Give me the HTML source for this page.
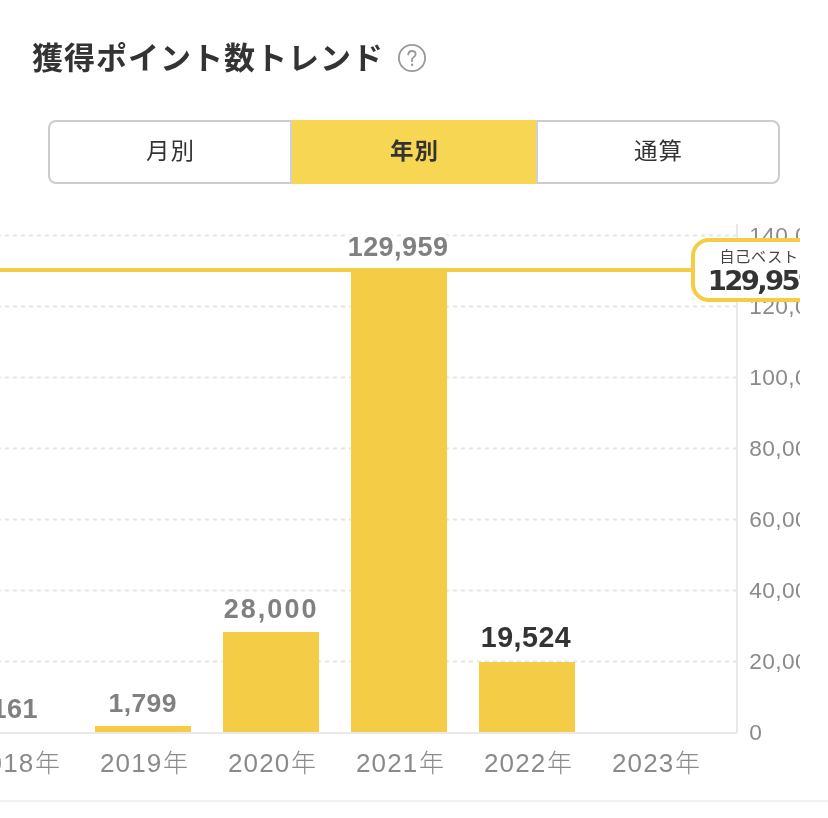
<!DOCTYPE html>
<html lang="ja">
<head>
<meta charset="utf-8">
<title>獲得ポイント数トレンド</title>
<style>
html,body{margin:0;padding:0;background:#fff;}
body{width:828px;height:818px;position:relative;overflow:hidden;font-family:"Liberation Sans","Noto Sans CJK JP",sans-serif;color:#333;}
.title{position:absolute;left:32px;top:35px;font-size:31px;line-height:48px;font-weight:bold;color:#333;white-space:nowrap;letter-spacing:1px;}
.help{position:absolute;left:396px;top:42px;width:32px;height:32px;}
.seg{position:absolute;left:48px;top:120px;width:728px;height:60px;border:2px solid #ccc;border-radius:8px;background:#fff;}
.seg div{position:absolute;top:-2px;height:64px;line-height:64px;text-align:center;font-size:22.500px;color:#333;}
.seg span{display:inline-block;letter-spacing:1px;margin-right:-1px;transform:scale(1.045,1.010);}
.seg .a{left:0;width:240px;}
.seg .d1{left:240px;width:2px;background:#cfcfd4;}
.seg .b{left:242px;width:244px;background:#f7d654;font-weight:bold;}
.seg .d2{left:486px;width:2px;background:#cfcfd4;}
.seg .c{left:488px;width:240px;}
.chart{position:absolute;left:0;top:200px;width:800px;height:600px;overflow:hidden;}
.sep{position:absolute;left:0;top:800px;width:828px;height:2px;background:#f1f1f1;}
svg text{font-family:"Liberation Sans","Noto Sans CJK JP",sans-serif;}
</style>
</head>
<body>
<div class="title">獲得ポイント数トレンド</div>
<svg class="help" viewBox="0 0 32 32" fill="none" stroke="#999" stroke-width="1.8" stroke-linecap="round" stroke-linejoin="round">
<circle cx="16" cy="16" r="13.1"/>
<path d="M12.300 12.500C12.500 10.300 14 9 16 9C18.100 9 19.600 10.300 19.600 12.200C19.600 13.800 18.700 14.600 17.600 15.300C16.500 16 16 16.600 16 17.700L16 19.200"/>
<circle cx="16.1" cy="22.800" r="1.2" fill="#999" stroke="none"/>
</svg>
<div class="seg">
<div class="a"><span>月別</span></div><div class="d1"></div><div class="b"><span>年別</span></div><div class="d2"></div><div class="c"><span>通算</span></div>
</div>
<div class="chart">
<svg width="828" height="600" viewBox="0 200 828 600">
<g stroke="#e6e6e6" stroke-width="2" stroke-dasharray="4 4" stroke-dashoffset="3">
<line x1="0" x2="737" y1="235.500" y2="235.500"/>
<line x1="0" x2="737" y1="306.500" y2="306.500"/>
<line x1="0" x2="737" y1="377.500" y2="377.500"/>
<line x1="0" x2="737" y1="448.500" y2="448.500"/>
<line x1="0" x2="737" y1="519.500" y2="519.500"/>
<line x1="0" x2="737" y1="590.500" y2="590.500"/>
<line x1="0" x2="737" y1="661.500" y2="661.500"/>
</g>
<g fill="#f5cc45">
<rect x="95" y="726" width="96" height="6"/>
<rect x="223" y="632" width="96" height="100"/>
<rect x="351" y="271" width="96" height="461"/>
<rect x="479" y="662" width="96" height="70"/>
</g>
<rect x="0" y="732" width="737" height="1.850" fill="#e8e8e8"/>
<rect x="736" y="224" width="2" height="508.500" fill="#e8e8e8"/>
<g font-size="22.700" fill="#8a8a8a" letter-spacing="0.400">
<text x="749.300" y="242.6">140,000</text>
<text x="749.300" y="313.6">120,000</text>
<text x="749.300" y="384.6">100,000</text>
<text x="749.300" y="455.6">80,000</text>
<text x="749.300" y="526.6">60,000</text>
<text x="749.300" y="597.6">40,000</text>
<text x="749.300" y="668.6">20,000</text>
<text x="749.300" y="739.6">0</text>
</g>
<g font-size="26" fill="#8a8a8a" text-anchor="middle" letter-spacing="1.150">
<text x="16.5" y="772">2018<tspan font-size="25" dx="0.500" font-weight="300">年</tspan></text>
<text x="144.5" y="772">2019<tspan font-size="25" dx="0.500" font-weight="300">年</tspan></text>
<text x="272.5" y="772">2020<tspan font-size="25" dx="0.500" font-weight="300">年</tspan></text>
<text x="400.5" y="772">2021<tspan font-size="25" dx="0.500" font-weight="300">年</tspan></text>
<text x="528.5" y="772">2022<tspan font-size="25" dx="0.500" font-weight="300">年</tspan></text>
<text x="656.5" y="772">2023<tspan font-size="25" dx="0.500" font-weight="300">年</tspan></text>
</g>
<g font-size="27" font-weight="bold" fill="#808080" stroke="#fff" stroke-width="7" stroke-linejoin="round" paint-order="stroke fill">
<text x="-8.500" y="717.700" letter-spacing="0.500">161</text>
<text x="108.500" y="711.700" letter-spacing="0.400" font-size="26.500">1,799</text>
<text x="223.700" y="617.600" letter-spacing="2.050">28,000</text>
<text x="347.700" y="255.600" letter-spacing="0.450">129,959</text>
<text x="480.800" y="647.200" fill="#333" font-size="28.600" letter-spacing="0.500">19,524</text>
</g>
<rect x="0" y="268" width="700" height="4" fill="#f5cc45"/>
<rect x="693" y="240" width="160" height="60" rx="16" ry="16" fill="#fff" stroke="#f5cc45" stroke-width="4"/>
<text x="719.500" y="261.600" font-size="15" fill="#444" letter-spacing="0.800">自己ベスト</text>
<text transform="translate(707.800,289.700) scale(1.050,1)" font-size="26.200" letter-spacing="-2.520" font-weight="bold" fill="#333" style="font-family:'DejaVu Sans','Liberation Sans',sans-serif">129,959</text>
</svg>
</div>
<div class="sep"></div>
</body>
</html>
